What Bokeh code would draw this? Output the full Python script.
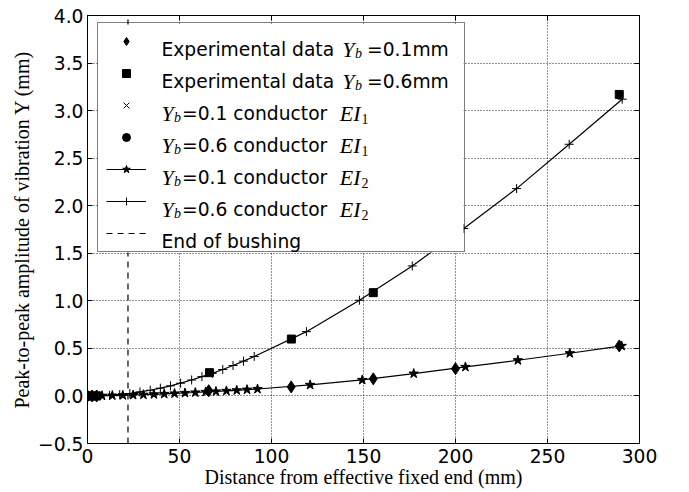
from bokeh.plotting import figure
from bokeh.models import (Range1d, FixedTicker, LinearAxis, Legend, LegendItem,
                          Label, BoxAnnotation, CustomJSTickFormatter)
from bokeh.embed import file_html
from bokeh.resources import INLINE

# ---------------- data ----------------
x_ticks = [0, 50, 100, 150, 200, 250, 300]
y_ticks = [-0.5, 0.0, 0.5, 1.0, 1.5, 2.0, 2.5, 3.0, 3.5, 4.0]

# Experimental data
exp01_x = [0.0, 2.5, 5.0, 65.9, 110.7, 155.3, 200.0, 289.0]
exp01_y = [0.0, 0.0, 0.0, 0.055, 0.095, 0.18, 0.287, 0.526]
exp06_x = [0.0, 2.5, 5.0, 66.3, 110.8, 155.3, 289.0]
exp06_y = [0.0, 0.0, 0.0, 0.245, 0.598, 1.086, 3.17]

# Conductor EI1 (hidden under the cluster at the fixed end)
ei1_01_x = [0.0, 2.5]
ei1_01_y = [0.0, 0.0]
ei1_06_x = [0.0, 2.5]
ei1_06_y = [0.0, 0.0]

# Conductor EI2, Yb = 0.1 (stars)
ei2_01_x = [2.3, 7.9, 13.5, 19.2, 24.8, 30.4, 36.1, 41.7, 47.3, 53.0, 58.6, 64.2,
            69.8, 75.5, 81.1, 86.7, 92.4, 121.0, 149.3, 177.3, 205.4, 233.9, 262.1, 290.3]
ei2_01_y = [0.0, 0.002, 0.004, 0.007, 0.010, 0.013, 0.017, 0.021, 0.026, 0.031, 0.036, 0.042,
            0.047, 0.053, 0.059, 0.066, 0.073, 0.116, 0.168, 0.235, 0.305, 0.375, 0.449, 0.526]

# Conductor EI2, Yb = 0.6 (plus signs)
ei2_06_x = [1.0, 6.5, 12.0, 17.5, 23.0, 28.5, 34.1, 39.6, 45.1, 50.6, 56.6, 62.2,
            67.8, 73.5, 79.1, 84.8, 90.6, 119.0, 147.8, 176.5, 204.5, 233.2, 261.8, 290.6]
ei2_06_y = [0.0, 0.002, 0.006, 0.014, 0.025, 0.042, 0.060, 0.082, 0.106, 0.134, 0.168, 0.203,
            0.237, 0.278, 0.320, 0.366, 0.415, 0.676, 1.006, 1.367, 1.760, 2.180, 2.646, 3.120]

# End of bushing
bushing_x = [22.0, 22.0]
bushing_y = [-0.5, 4.0]

# ---------------- figure ----------------
TICK_FONT = "DejaVu Sans"
TICK_SIZE = "18.7px"
LAB_FONT = "Liberation Serif"

p = figure(width=689, height=492, output_backend="svg", toolbar_location=None,
           x_range=Range1d(0, 300), y_range=Range1d(-0.5, 4.0),
           min_border_left=87, min_border_right=50, min_border_top=15,
           min_border_bottom=49, background_fill_color="white",
           border_fill_color="white", outline_line_color="black",
           outline_line_width=1)

p.xaxis.ticker = FixedTicker(ticks=x_ticks)
p.yaxis.ticker = FixedTicker(ticks=y_ticks)
p.yaxis.formatter = CustomJSTickFormatter(
    code="return (tick < 0 ? '\u2212' : '') + Math.abs(tick).toFixed(1);")

for ax in (p.xaxis[0], p.yaxis[0]):
    ax.axis_line_color = "black"
    ax.major_tick_line_color = "black"
    ax.major_tick_in = 5
    ax.major_tick_out = 0
    ax.minor_tick_in = 0
    ax.minor_tick_out = 0
    ax.major_label_text_font = TICK_FONT
    ax.major_label_text_font_size = TICK_SIZE
    ax.major_label_text_color = "black"
    ax.axis_label_text_font = LAB_FONT
    ax.axis_label_text_font_size = "20px"
    ax.axis_label_text_font_style = "normal"
    ax.axis_label_text_color = "black"

p.xaxis.axis_label = "Distance from effective fixed end (mm)"
p.xaxis.major_label_standoff = 5
p.xaxis.axis_label_standoff = 0
p.yaxis.axis_label = "Peak-to-peak amplitude of vibration Y (mm)"
p.yaxis.major_label_standoff = 4
p.yaxis.axis_label_standoff = 2

# ticks on the top and right sides (no labels)
top_ax = LinearAxis(ticker=FixedTicker(ticks=x_ticks), major_label_text_font_size="0px",
                    major_tick_in=5, major_tick_out=0, minor_tick_in=0, minor_tick_out=0,
                    major_label_standoff=0, axis_line_color="black",
                    major_tick_line_color="black")
right_ax = LinearAxis(ticker=FixedTicker(ticks=y_ticks), major_label_text_font_size="0px",
                      major_tick_in=5, major_tick_out=0, minor_tick_in=0, minor_tick_out=0,
                      major_label_standoff=0, axis_line_color="black",
                      major_tick_line_color="black")
p.add_layout(top_ax, "above")
p.add_layout(right_ax, "right")

for g in (p.xgrid[0], p.ygrid[0]):
    g.grid_line_color = "black"
    g.grid_line_dash = "1 2"
    g.grid_line_width = 1
    g.grid_line_alpha = 0.85

# ---------------- glyphs ----------------
bush = p.line(bushing_x, bushing_y, line_color="black", line_width=1.2, line_dash="6 5")

l06 = p.line(ei2_06_x, ei2_06_y, line_color="black", line_width=1.2)
m06 = p.scatter(ei2_06_x, ei2_06_y, marker="cross", size=9, line_color="black", line_width=1)
l01 = p.line(ei2_01_x, ei2_01_y, line_color="black", line_width=1.2)
m01 = p.scatter(ei2_01_x, ei2_01_y, marker="star", size=10, line_color="black",
                fill_color="black")

e1_01 = p.scatter(ei1_01_x, ei1_01_y, marker="x", size=8, line_color="black", line_width=1)
e1_06 = p.scatter(ei1_06_x, ei1_06_y, marker="circle", size=7, line_color="black",
                  fill_color="black")

ex01 = p.scatter(exp01_x, exp01_y, marker="diamond", size=12, line_color="black",
                 fill_color="black")
ex06 = p.scatter(exp06_x, exp06_y, marker="square", size=8, line_color="black",
                 fill_color="black")

# ---------------- legend ----------------
def dx(px):
    return (px - 87) * 300.0 / 552.0

def dy(py):
    return 4.0 - (py - 15) * 4.5 / 428.0

# white backing of the legend box (drawn over the data lines)
p.add_layout(BoxAnnotation(left=dx(97), right=dx(463), top=dy(24), bottom=dy(252),
                           fill_color="white", fill_alpha=1.0, line_color=None,
                           level="annotation"))

def lab(text, px, py, font=TICK_FONT, size=TICK_SIZE, style="normal"):
    p.add_layout(Label(x=dx(px), y=dy(py), text=text, text_font=font,
                       text_font_size=size, text_font_style=style,
                       text_baseline="alphabetic", text_align="left",
                       text_color="black"))

rows = [49, 81, 113, 145, 177, 209, 241]
ITAL = "22px"
SUB = "14px"

for r, val in zip(rows[:2], ["=0.1mm", "=0.6mm"]):
    lab("Experimental data", 161, r)
    lab("Y", 341.7, r, LAB_FONT, ITAL, "italic")
    lab("b", 354.5, r + 4, LAB_FONT, SUB, "italic")
    lab(val, 366.5, r)

for r, val, sub in zip(rows[2:6], ["0.1", "0.6", "0.1", "0.6"], ["1", "1", "2", "2"]):
    lab("Y", 161, r, LAB_FONT, ITAL, "italic")
    lab("b", 173.5, r + 4, LAB_FONT, SUB, "italic")
    lab("=" + val + " conductor", 181.5, r)
    lab("EI", 339.3, r, LAB_FONT, ITAL, "italic")
    lab(sub, 361.0, r + 5, LAB_FONT, SUB, "normal")

lab("End of bushing", 161, rows[6])

items = [
    LegendItem(label=" ", renderers=[ex01]),
    LegendItem(label=" ", renderers=[ex06]),
    LegendItem(label=" ", renderers=[e1_01]),
    LegendItem(label=" ", renderers=[e1_06]),
    LegendItem(label=" ", renderers=[l01, m01]),
    LegendItem(label=" ", renderers=[l06, m06]),
    LegendItem(label=" ", renderers=[bush]),
]
legend = Legend(items=items, location=(10, 191), padding=8, spacing=12, margin=0,
                glyph_width=40, glyph_height=20, label_width=294, label_height=20,
                label_standoff=16, label_text_font_size="10px",
                border_line_color="black", border_line_width=1,
                background_fill_alpha=0.0)
p.add_layout(legend)

open("out.html", "w").write(file_html(p, INLINE))
